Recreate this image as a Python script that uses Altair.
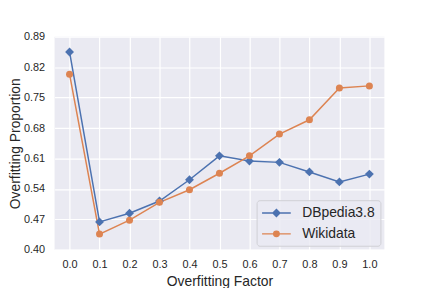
import altair as alt
import pandas as pd

factor = [0.0, 0.1, 0.2, 0.3, 0.4, 0.5, 0.6, 0.7, 0.8, 0.9, 1.0]
dbpedia = [0.855, 0.464, 0.484, 0.512, 0.561, 0.616, 0.604, 0.601, 0.579, 0.556, 0.574]
wikidata = [0.804, 0.436, 0.468, 0.509, 0.538, 0.576, 0.616, 0.666, 0.699, 0.772, 0.777]
series = ["DBpedia3.8", "Wikidata"]
colors = ["#4C72B0", "#DD8452"]
y_ticks = [0.40, 0.47, 0.54, 0.61, 0.68, 0.75, 0.82, 0.89]
x_ticks = factor

# legend glyphs: a short line with the marker on it
legend_paths = [
    "M-2,0L2,0M0,-0.48L0.48,0L0,0.48L-0.48,0Z",
    "M-2,0L2,0M-0.38,0A0.38,0.38,0,1,0,0.38,0A0.38,0.38,0,1,0,-0.38,0Z",
]

df = pd.DataFrame({
    "factor": factor + factor,
    "value": dbpedia + wikidata,
    "series": [series[0]] * len(factor) + [series[1]] * len(factor),
})

font = "Liberation Sans"

x = alt.X("factor:Q",
          scale=alt.Scale(domain=[-0.05, 1.05], nice=False, zero=False),
          axis=alt.Axis(values=x_ticks, format=".1f", title="Overfitting Factor",
                        labelPadding=9, titleBaseline="alphabetic", titleY=36))
y = alt.Y("value:Q",
          scale=alt.Scale(domain=[0.40, 0.89], nice=False, zero=False),
          axis=alt.Axis(values=y_ticks, format=".2f", title="Overfitting Proportion",
                        labelPadding=10, titleX=-46, titleY=107.5, titleAngle=270,
                        titleBaseline="top", titleAlign="center"))

color = alt.Color("series:N", scale=alt.Scale(domain=series, range=colors), legend=None)

leg = alt.Legend(orient="none", legendX=204, legendY=165, title=None,
                 fillColor="rgba(234,234,242,0.8)", strokeColor="#cfcfd4",
                 cornerRadius=3, padding=5, rowPadding=6,
                 labelFont=font, labelFontSize=14, labelColor="#262626",
                 symbolSize=210, symbolStrokeWidth=1.5, symbolOffset=7,
                 symbolOpacity=1, labelOffset=18)

# legend-only layer: points of size 0 (invisible in the plot)
legend_layer = alt.Chart(df).mark_point(
    filled=True, strokeWidth=1.5, size=0, opacity=1).encode(
    x=x, y=y,
    fill=alt.Fill("series:N", scale=alt.Scale(domain=series, range=colors), legend=leg),
    stroke=alt.Stroke("series:N", scale=alt.Scale(domain=series, range=colors), legend=leg),
    shape=alt.Shape("series:N", scale=alt.Scale(domain=series, range=legend_paths), legend=leg),
)

lines = alt.Chart(df).mark_line(strokeWidth=1.5).encode(x=x, y=y, color=color)

diamonds = alt.Chart(df).transform_filter(alt.datum.series == series[0]).mark_point(
    filled=True, shape="diamond", size=80, opacity=1).encode(x=x, y=y, color=color)
circles = alt.Chart(df).transform_filter(alt.datum.series == series[1]).mark_point(
    filled=True, shape="circle", size=50, opacity=1).encode(x=x, y=y, color=color)

chart = alt.layer(legend_layer, lines, diamonds, circles).properties(
    width=333, height=215,
    autosize=alt.AutoSizeParams(type="none"),
    padding={"left": 47, "top": 27.7, "right": 40, "bottom": 37.3},
    background="white",
).configure_view(fill="#EAEAF2", strokeWidth=0).configure_axis(
    labelFont=font, labelFontSize=11, labelColor="#262626",
    titleFont=font, titleFontSize=14, titleFontWeight="normal", titleColor="#262626",
    domain=False, ticks=False, gridColor="white", gridWidth=1.2, gridOpacity=1,
)

chart.save("out.html", embed_options={"renderer": "svg", "actions": False})
